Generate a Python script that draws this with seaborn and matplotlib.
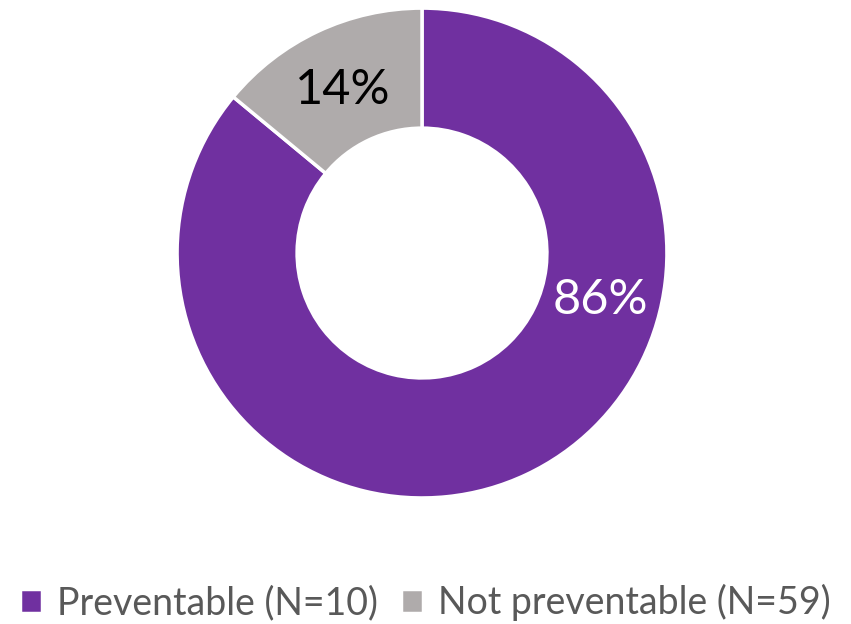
import matplotlib
matplotlib.use("Agg")
import matplotlib.pyplot as plt
import seaborn as sns

categories = ["Preventable (N=10)", "Not preventable (N=59)"]
shares = [86, 14]
colors = ["#7030A0", "#AFABAB"]
label_colors = ["white", "black"]
# label anchor points inside the ring (data units, outer radius = 1)
label_pos = [(0.727, -0.192), (-0.322, 0.665)]

sns.set_theme(style="white")
plt.rcParams["font.family"] = ["Lato", "DejaVu Sans"]

fig = plt.figure(figsize=(8.51, 6.24), dpi=100)
ax = fig.add_axes([0.208, 0.202, 0.5758, 0.785])

wedges, _ = ax.pie(
    shares,
    colors=sns.color_palette(colors),
    startangle=90,
    counterclock=False,
    radius=1.0,
    wedgeprops=dict(width=0.49, edgecolor="white", linewidth=2.5),
)
ax.set_xlim(-1, 1)
ax.set_ylim(-1, 1)
ax.set_aspect("equal")
ax.axis("off")

for val, (x, y), c in zip(shares, label_pos, label_colors):
    ax.text(x, y, f"{val}%", ha="center", va="center", color=c, fontsize=35)

fig.legend(
    wedges, categories,
    loc="center", bbox_to_anchor=(0.5, 0.034),
    ncol=2, frameon=False, fontsize=27,
    handlelength=0.6, handleheight=0.6, handletextpad=0.4,
    columnspacing=0.6, labelcolor="#595959",
)

fig.savefig("out.png", dpi=100, facecolor="white")
